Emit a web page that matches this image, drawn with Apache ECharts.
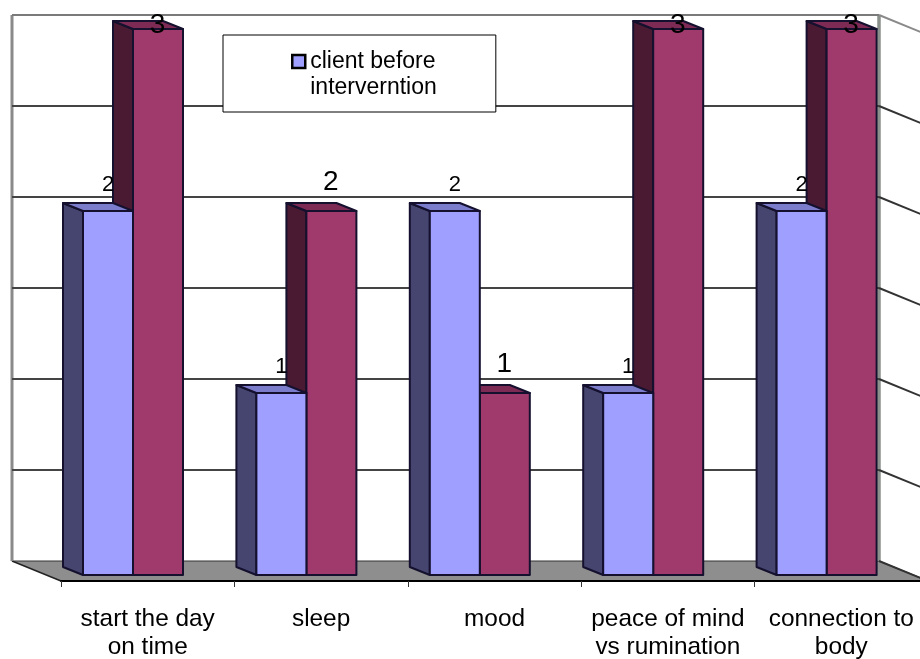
<!DOCTYPE html>
<html>
<head>
<meta charset="utf-8">
<style>html,body{margin:0;padding:0;background:#fff}#c{width:920px;height:659px}</style>
<script src="https://cdn.jsdelivr.net/npm/echarts@6/dist/echarts.min.js"></script>
</head>
<body>
<div id="c"></div>
<script>
const categories = ['start the day\non time', 'sleep', 'mood', 'peace of mind\nvs rumination', 'connection to\nbody'];
const beforeValues = [2, 1, 2, 1, 2];
const afterValues = [3, 2, 1, 3, 3];
const gridTicks = [0, 0.5, 1, 1.5, 2, 2.5, 3];
const beforeName = 'client before\ninterverntion';
const afterName = 'client after intervention';

const FONT = '"Liberation Sans", Arial, sans-serif';
const WALL = [-49, -14], FLOOR = [0, 6], PLANE = -14.7, DEPTH = [-20, -8], BAR_W = 50;

function poly(points, fill, stroke, lw) {
  return { type: 'polygon', shape: { points }, style: { fill, stroke: stroke || null, lineWidth: lw || 0, lineJoin: 'round' } };
}
function seg(x1, y1, x2, y2, stroke, lw) {
  return { type: 'line', shape: { x1, y1, x2, y2 }, style: { stroke, lineWidth: lw, fill: null } };
}
function floorItem(params, api) {
  const o = api.coord([0, 0]);
  const x0 = o[0] - api.size([1, 0])[0] / 2;
  const x1 = x0 + api.size([1, 0])[0] * categories.length;
  const y0 = o[1];
  const back = y0 + WALL[1], front = y0 + FLOOR[1];
  const bl = x0 + WALL[0], br = x1 + WALL[0];
  const top = api.coord([0, 3])[1] + WALL[1];
  return { type: 'group', children: [
    poly([[bl, back], [br, back], [x1, front], [x0, front]], '#8e8e8e', null, 0),
    seg(bl, back, br, back, '#333', 1),
    seg(bl, back, x0, front, '#222', 1.5),
    seg(br, back, x1, front, '#444', 1.2),
    seg(bl, top, bl, back, '#8a8a8a', 3),
    seg(br, top, br, back, '#8a908c', 3.5)
  ] };
}
function gridItem(params, api) {
  const v = api.value(0);
  const o = api.coord([0, v]);
  const band = api.size([1, 0])[0];
  const x0 = api.coord([0, 0])[0] - band / 2;
  const x1 = x0 + band * categories.length;
  const y = o[1] + WALL[1];
  const top = v === 3;
  const col = top ? '#7a7a7a' : '#444';
  const lines = [seg(x1 + WALL[0], y, x1, o[1] + FLOOR[1], top ? '#8a8a8a' : '#333', 2)];
  if (v !== 0) lines.unshift(seg(x0 + WALL[0], y, x1 + WALL[0], y, col, 2));
  return { type: 'group', children: lines };
}
function barRenderer(side, colors, labelSize, labelDx, labelDy, labelMinY) {
  return function (params, api) {
    const cat = api.value(0), val = api.value(1);
    const c = api.coord([cat, val]);
    const b = api.coord([cat, 0]);
    const mid = c[0] + PLANE;
    const xl = side < 0 ? mid - BAR_W : mid;
    const xr = xl + BAR_W;
    const yt = c[1], yb = b[1];
    const dx = DEPTH[0], dy = DEPTH[1];
    const ink = '#14102e';
    return { type: 'group', children: [
      poly([[xl, yt], [xl + dx, yt + dy], [xl + dx, yb + dy], [xl, yb]], colors.side, ink, 2),
      poly([[xl, yt], [xr, yt], [xr + dx, yt + dy], [xl + dx, yt + dy]], colors.top, ink, 2),
      poly([[xl, yt], [xr, yt], [xr, yb], [xl, yb]], colors.front, ink, 2),
      { type: 'text', z2: 100, style: {
          text: String(val), x: xl + labelDx, y: Math.max(yt + labelDy, labelMinY),
          fill: '#000', font: labelSize + 'px ' + FONT, align: 'center', verticalAlign: 'middle'
      } }
    ] };
  };
}

const chart = echarts.init(document.getElementById('c'), null, { renderer: 'canvas' });
chart.setOption({
  animation: false,
  backgroundColor: '#fff',
  textStyle: { fontFamily: FONT },
  grid: { left: 61, top: 29, width: 867, height: 546, containLabel: false, outerBoundsMode: 'none' },
  legend: {
    data: [{ name: beforeName }],
    left: 223, top: 35,
    orient: 'vertical',
    padding: [14, 59, 11, 68],
    backgroundColor: '#fff',
    borderColor: '#000',
    borderWidth: 1,
    itemWidth: 13, itemHeight: 40, itemGap: 0,
    icon: 'path://M0 0L13 0L13 13L0 13ZM0 40L0 40',
    itemStyle: { color: '#9F9FFF', borderColor: '#000', borderWidth: 2.5 },
    textStyle: { fontSize: 23, color: '#000', fontFamily: FONT, lineHeight: 26 },
    selectedMode: false
  },
  xAxis: {
    type: 'category',
    data: categories,
    offset: 6,
    z: 10,
    axisLine: { show: true, onZero: false, lineStyle: { color: '#000', width: 2 } },
    axisTick: { show: true, length: 6, lineStyle: { color: '#333', width: 1 } },
    axisLabel: { color: '#000', fontSize: 24.4, fontFamily: FONT, lineHeight: 28, margin: 24, interval: 0 }
  },
  yAxis: {
    type: 'value', min: 0, max: 3, interval: 0.5, show: false,
    splitLine: { show: false }
  },
  series: [
    { name: 'floor', type: 'custom', silent: true, renderItem: floorItem, data: [[0]], encode: { x: 0 }, z: 1 },
    { name: 'grid', type: 'custom', silent: true, renderItem: gridItem, data: gridTicks.map(v => [v]), z: 1 },
    { name: afterName, type: 'custom', z: 2, itemStyle: { color: '#A03A6C' },
      renderItem: barRenderer(1, { front: '#A03A6C', side: '#4A1A33', top: '#7D2A55' }, 28, 24.5, -29, 25),
      data: afterValues.map((v, i) => [i, v]), encode: { x: 0, y: 1 } },
    { name: beforeName, type: 'custom', z: 2, itemStyle: { color: '#9F9FFF' },
      renderItem: barRenderer(-1, { front: '#9F9FFF', side: '#45456F', top: '#7C7CCC' }, 22, 25, -26, 25),
      data: beforeValues.map((v, i) => [i, v]), encode: { x: 0, y: 1 } }
  ]
});
</script>
</body>
</html>
